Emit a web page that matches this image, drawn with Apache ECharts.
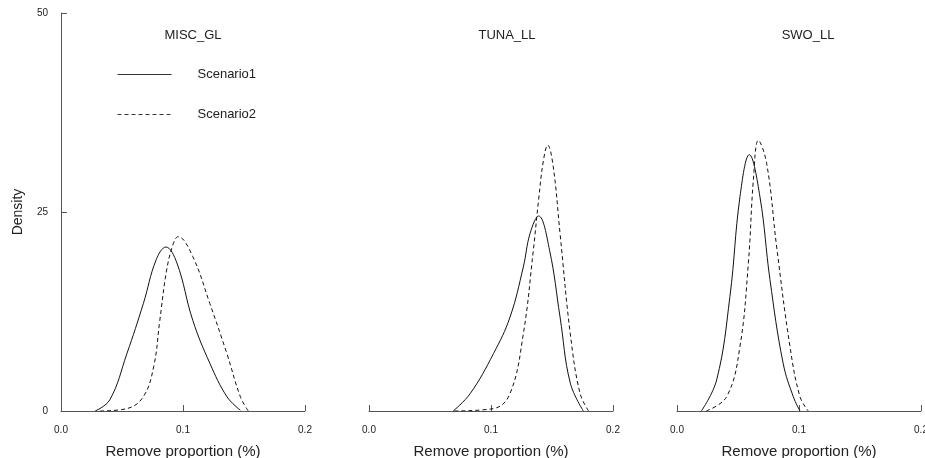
<!DOCTYPE html>
<html>
<head>
<meta charset="utf-8">
<script src="https://cdn.jsdelivr.net/npm/echarts@6/dist/echarts.min.js"></script>
<style>
  html, body { margin: 0; padding: 0; background: #fff; }
  #main { width: 925px; height: 458px; }
</style>
</head>
<body>
<div id="main"></div>
<script>
// panels
let panels = ['MISC_GL', 'TUNA_LL', 'SWO_LL'];
let xTicks = [0, 0.1, 0.2];
let yTicks = [0, 25, 50];

// density curves: [proportion, density]
let miscS1 = [[0.028,0],[0.040,1.4],[0.054,7.2],[0.0675,13.5],[0.078,19],[0.086,20.6],[0.095,18.6],[0.108,11.4],[0.122,6.0],[0.136,1.8],[0.147,0.1]];
let miscS2 = [[0.032,0],[0.054,0.3],[0.0675,1.8],[0.076,5.6],[0.081,11.4],[0.0866,17.7],[0.092,21],[0.096,21.9],[0.108,19.4],[0.122,13.5],[0.136,7.2],[0.147,1.8],[0.1535,0]];
let tunaS1 = [[0.069,0],[0.083,2.2],[0.102,7.2],[0.1156,11.8],[0.1265,18.1],[0.132,22.3],[0.139,24.5],[0.148,20.2],[0.1566,11.8],[0.165,3.5],[0.1757,0]];
let tunaS2 = [[0.070,0],[0.102,0.3],[0.1156,2.2],[0.1265,9.7],[0.1347,20.2],[0.139,26.5],[0.143,31.5],[0.1465,33.4],[0.151,30.7],[0.1566,22.3],[0.165,9.7],[0.173,2.2],[0.180,0]];
let swoS1 = [[0.020,0],[0.0325,3.9],[0.0434,14.4],[0.0516,26.9],[0.0593,32.2],[0.068,26.9],[0.0762,16.5],[0.087,6.0],[0.0953,1.8],[0.1008,0]];
let swoS2 = [[0.024,0],[0.0407,1.8],[0.0516,8.1],[0.0585,18.6],[0.0626,29],[0.0667,34],[0.0735,31.1],[0.0817,20.6],[0.0926,8.1],[0.1008,1.8],[0.1076,0]];

let s1 = [miscS1, tunaS1, swoS1];
let s2 = [miscS2, tunaS2, swoS2];

let lefts = [61, 369, 677];
let titleX = [188, 502, 803];
let axisColor = '#555';
let font = 'Liberation Sans, Arial, sans-serif';

let grids = [], xAxes = [], yAxes = [], series = [], titles = [];
panels.forEach((p, i) => {
    grids.push({ left: lefts[i], top: 13, width: 244, height: 398,
        containLabel: false, outerBoundsMode: 'none' });
    titles.push({
        text: p, left: titleX[i], top: 24, textAlign: 'center',
        textStyle: { fontSize: 13, fontWeight: 'normal', color: '#222', fontFamily: font }
    });
    xAxes.push({
        type: 'value', gridIndex: i, min: xTicks[0], max: xTicks[2], interval: 0.1,
        name: 'Remove proportion (%)', nameLocation: 'middle', nameGap: 33,
        nameTextStyle: { fontSize: 15, color: '#222', fontFamily: font },
        axisLine: { lineStyle: { color: axisColor } },
        axisTick: { inside: true, length: 6, lineStyle: { color: axisColor } },
        axisLabel: { margin: 14, fontSize: 10, color: '#222', fontFamily: font,
            formatter: v => v.toFixed(1) },
        splitLine: { show: false }
    });
    yAxes.push({
        type: 'value', gridIndex: i, min: yTicks[0], max: yTicks[2], interval: 25,
        show: i == 0,
        name: 'Density', nameLocation: 'middle', nameGap: 36,
        nameTextStyle: { fontSize: 14, color: '#222', fontFamily: font },
        axisLine: { show: true, lineStyle: { color: axisColor } },
        axisTick: { show: true, inside: true, length: 6, lineStyle: { color: axisColor } },
        axisLabel: { margin: 13, fontSize: 10, color: '#222', fontFamily: font },
        splitLine: { show: false }
    });
    series.push({
        name: 'Scenario1', type: 'line', xAxisIndex: i, yAxisIndex: i,
        data: s1[i], smooth: 0.4, symbol: 'none',
        lineStyle: { color: '#111', width: 1 }, itemStyle: { color: '#111' }
    });
    series.push({
        name: 'Scenario2', type: 'line', xAxisIndex: i, yAxisIndex: i,
        data: s2[i], smooth: 0.4, symbol: 'none',
        lineStyle: { color: '#111', width: 1, type: [4, 3] }, itemStyle: { color: '#111' }
    });
});

let myChart = echarts.init(document.getElementById('main'));
myChart.setOption({
    animation: false,
    title: titles,
    legend: {
        data: ['Scenario1', 'Scenario2'], orient: 'vertical', left: 117, top: 68,
        padding: 0, itemWidth: 54, itemHeight: 14, itemGap: 27,
        itemStyle: { opacity: 0 },
        lineStyle: { width: 1, color: '#333' },
        textStyle: { fontSize: 13, color: '#222', fontFamily: font, padding: [0, 0, 0, 21] }
    },
    grid: grids,
    xAxis: xAxes,
    yAxis: yAxes,
    series: series
});
</script>
</body>
</html>
